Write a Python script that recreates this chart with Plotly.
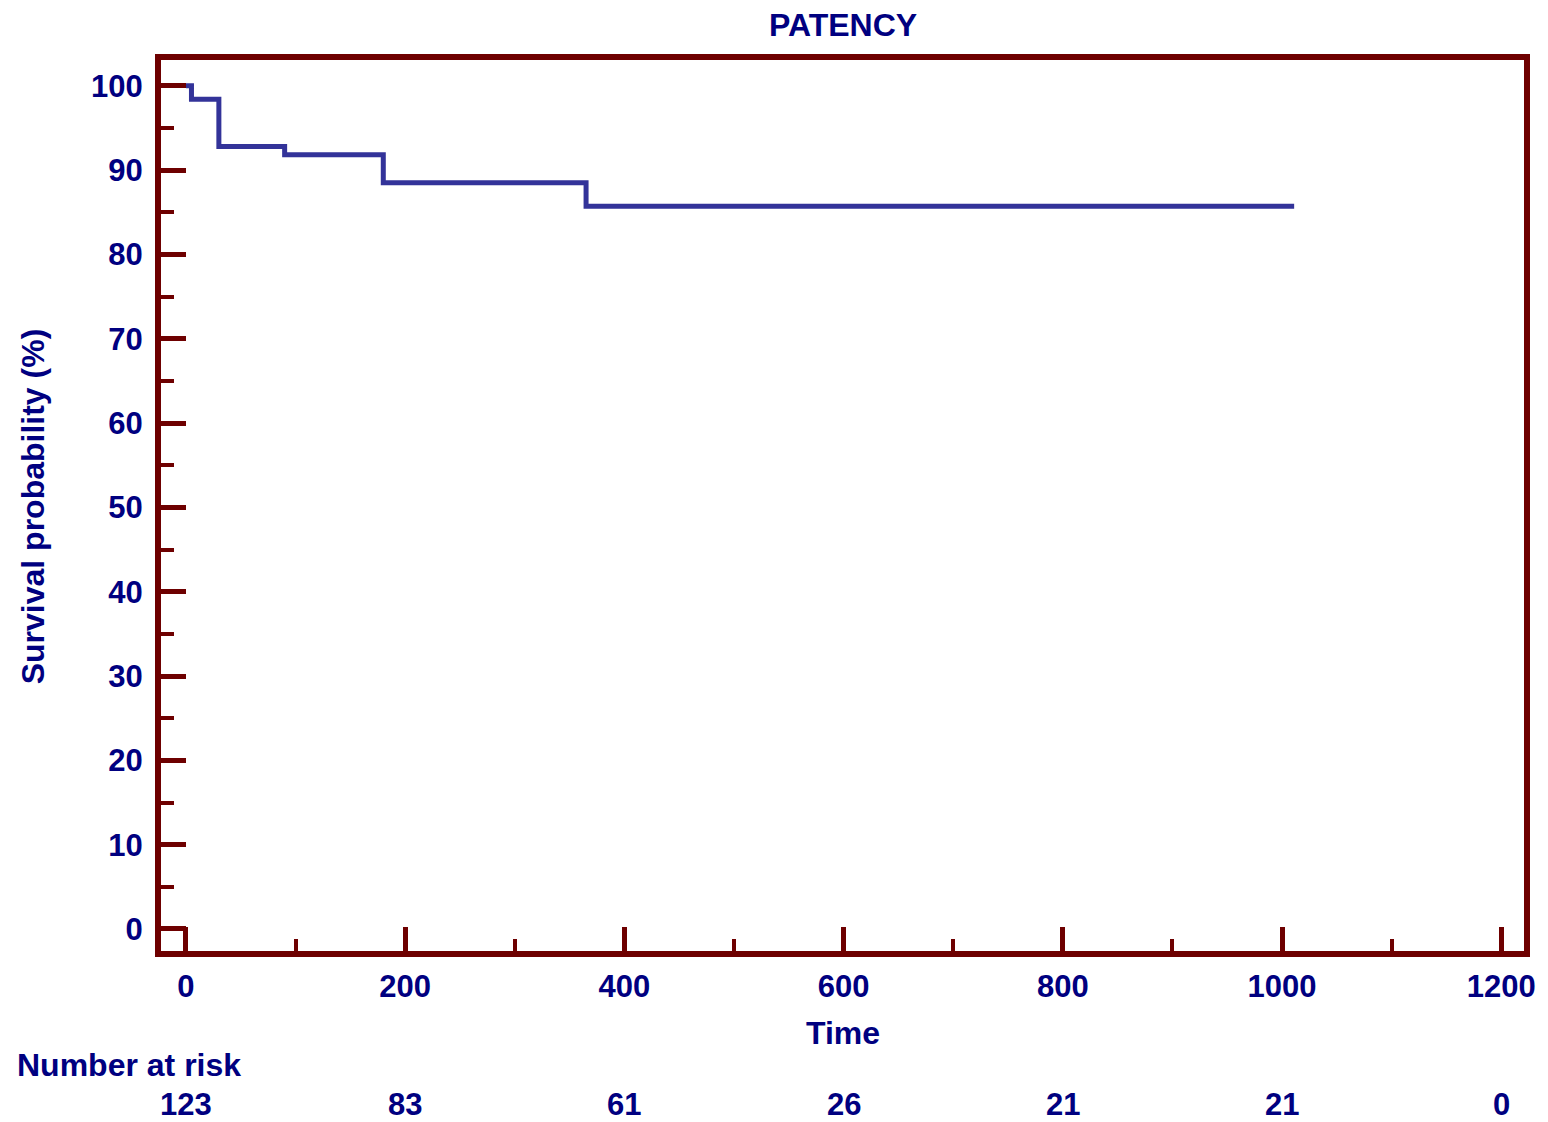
import plotly.graph_objects as go

# Kaplan-Meier step data (time in days, survival %)
times = [0, 5, 30, 90, 180, 365, 1011]
survival = [100, 98.4, 92.8, 91.8, 88.5, 85.7, 85.7]

# Number at risk table
risk_times = [0, 200, 400, 600, 800, 1000, 1200]
risk_counts = [123, 83, 61, 26, 21, 21, 0]

x_ticks = [0, 200, 400, 600, 800, 1000, 1200]
y_ticks = [0, 10, 20, 30, 40, 50, 60, 70, 80, 90, 100]

NAVY = "#000080"
FRAME = "#6E0000"
LINE = "#333399"
FAM = "Liberation Sans, Arial, sans-serif"
TICKFONT = dict(family=FAM, size=31, color=NAVY, weight="bold")
FONT = dict(family=FAM, size=32, color=NAVY, weight="bold")

fig = go.Figure()
fig.add_trace(go.Scatter(
    x=times, y=survival, mode="lines", line=dict(color=LINE, width=5, shape="hv"),
    showlegend=False, hoverinfo="skip"))

axis_common = dict(
    showgrid=False, zeroline=False, showline=True, linecolor=FRAME, linewidth=6,
    mirror=True, ticks="inside", tickcolor=FRAME, tickwidth=5, tickfont=TICKFONT,
)

fig.update_xaxes(
    range=[-22.8, 1220.7], tickvals=x_ticks, ticklen=24, ticklabelstandoff=3,
    minor=dict(dtick=100, tick0=0, ticks="inside", ticklen=12, tickwidth=4, tickcolor=FRAME),
    **axis_common)
fig.update_yaxes(
    range=[-2.61, 103.05], tickvals=y_ticks, ticklen=25, ticklabelstandoff=6,
    minor=dict(dtick=5, tick0=0, ticks="inside", ticklen=13, tickwidth=4, tickcolor=FRAME),
    **axis_common)

annotations = [
    dict(text="PATENCY", xref="paper", yref="paper", x=0.5, y=1.0393,
         xanchor="center", yanchor="middle", showarrow=False, font=FONT),
    dict(text="Time", xref="paper", yref="paper", x=0.5, y=-0.0920,
         xanchor="center", yanchor="middle", showarrow=False, font=FONT),
    dict(text="Survival probability (%)", xref="paper", yref="paper", x=-0.0937, y=0.4994,
         xanchor="center", yanchor="middle", textangle=-90, showarrow=False, font=FONT),
    dict(text="Number at risk", xref="paper", yref="paper", x=-0.1069, y=-0.1279,
         xanchor="left", yanchor="middle", showarrow=False, font=FONT),
]
for t, n in zip(risk_times, risk_counts):
    annotations.append(dict(text=str(n), xref="x", yref="paper", x=t, y=-0.1728,
                            xanchor="center", yanchor="middle", showarrow=False, font=TICKFONT))

fig.update_layout(
    width=1548, height=1122,
    margin=dict(l=161, r=21, t=60, b=171),
    paper_bgcolor="white", plot_bgcolor="white",
    annotations=annotations,
)

fig.write_html("out.html")
